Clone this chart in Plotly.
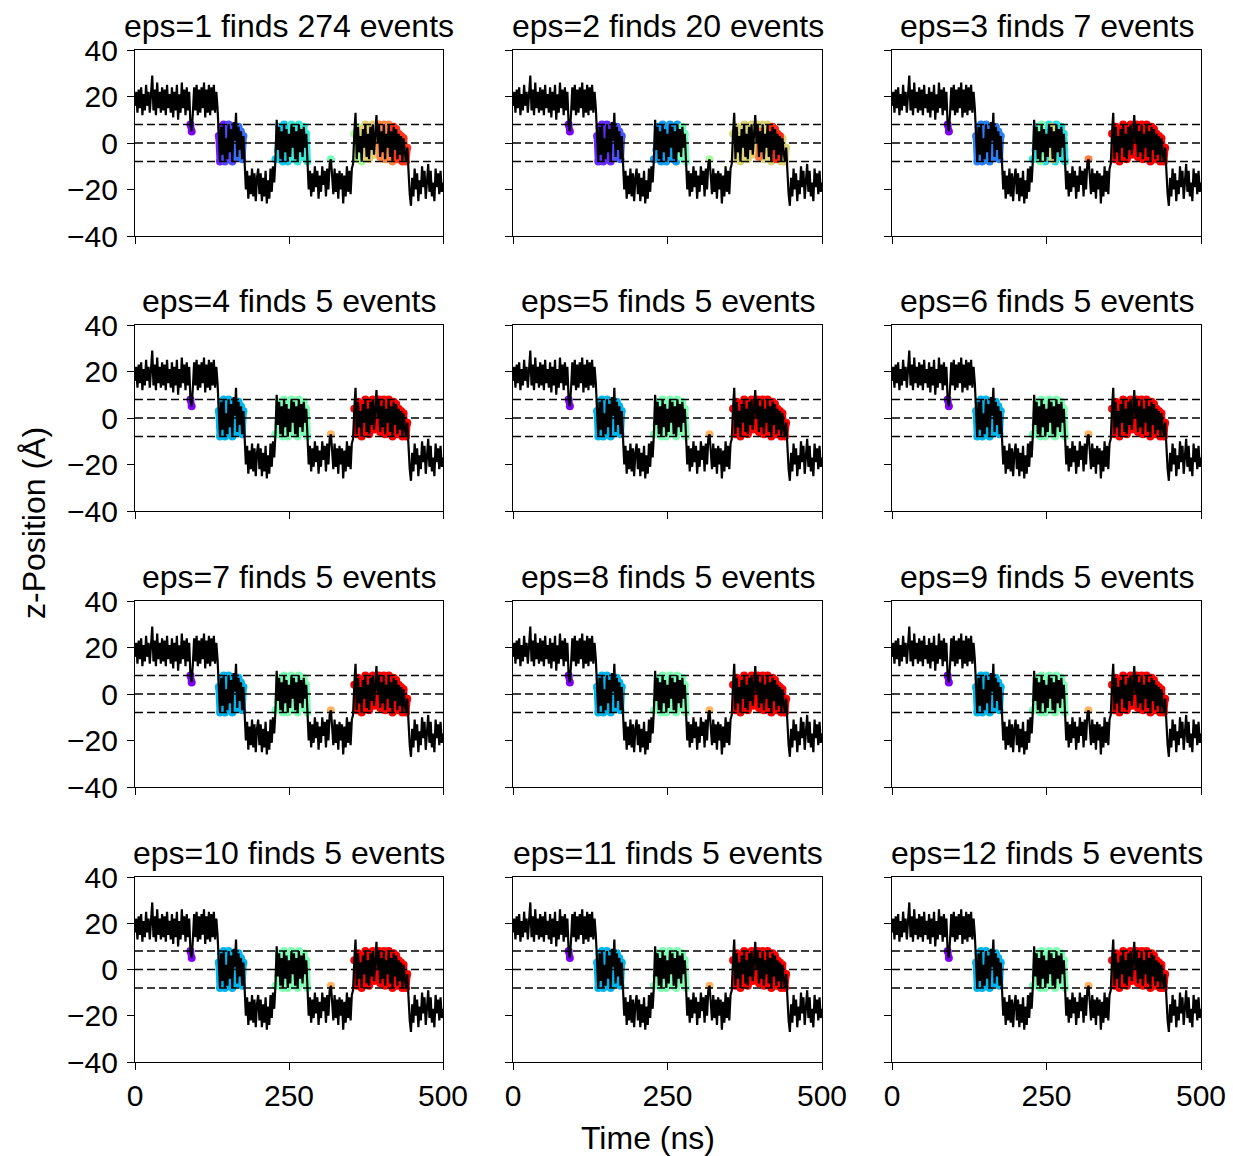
import math
import plotly.graph_objects as go
from plotly.subplots import make_subplots

# z-position of the ion along the channel axis, sampled every 2 ns
time_ns = list(range(0, 501, 2))
z_pos = [
    # 0-134 ns: above the channel
    16, 22, 13, 23, 15, 24, 12, 21, 14, 25, 16, 22, 13, 24, 29, 14, 23, 12, 26, 15,
    22, 13, 24, 14, 23, 12, 25, 15, 21, 13, 24, 11, 22, 14, 25, 10, 21, 13, 26, 15,
    23, 12, 24, 14, 22, 8, 5, 13, 24, 14, 25, 12, 23, 13, 24, 15, 26, 11, 23, 13,
    25, 12, 24, 14, 25, 13, 22, 15,
    # 136-178 ns: first passage through the channel
    3, -8, 7, -5, 8, -8, 2, -7, 8, -4, 6, -8, 9, 1, 13, -6, 7, -3, 5, -7, 3, -13,
    # 180-226 ns: below the channel
    -20, -12, -24, -14, -22, -11, -23, -13, -25, -15, -11, -22, -13, -25, -15, -23,
    -12, -26, -16, -24, -11, -21, -10, -17,
    # 228-280 ns: back inside
    -7, 10,
    -3, 7, -7, 5, -8, 8, -4, 6, -8, 4, -6, 8, -2, 7, -7, 5, -8, 8, -4, 6, -6, 7, -2, 4, -8,
    # 282-352 ns: below the channel
    -20, -12, -23, -13, -21, -10, -19, -12, -24, -14, -21, -10, -18, -12, -23, -11,
    -20, -9, -7, -14, -22, -11, -21, -13, -24, -12, -20, -13, -26, -14, -23, -10,
    -21, -12, -22, -11,
    # 354-442 ns: long stay inside
    -9, 4, 13,
    -7, 7, -4, 3, -8, 6, -2, 8, -6, 4, -7, 7, -3, 8, -5, 6, 12, 0, 8, -6, 5, -4,
    8, -7, 4, -2, 8, -6, 5, -8, 7, -3, 6, -7, 4, -5, 3, -8, 2, -4, -8, -2,
    # 444-500 ns: below the channel
    -14, -22, -27, -15, -23, -11, -20, -13, -25, -16, -22, -10, -19, -12, -24, -15,
    -9, -21, -12, -23, -17, -25, -11, -19, -13, -22, -12, -21, -17,
]

# channel boundaries (dashed lines)
channel_levels = [8, 0, -8]
channel_half_width = 8

eps_values = [1, 2, 3, 4, 5, 6, 7, 8, 9, 10, 11, 12]
events_found = [274, 20, 7, 5, 5, 5, 5, 5, 5, 5, 5, 5]

# (start ns, end ns, cluster label) for in-channel points of each run
spans_default = [(88, 96, 0), (136, 178, 1), (228, 282, 2), (316, 320, 3), (354, 442, 4)]
event_spans = {
    1: [(88, 96, 0), (136, 146, 10), (146, 160, 25), (160, 178, 40), (228, 250, 80),
        (250, 282, 100), (316, 320, 130), (354, 370, 160), (370, 395, 190),
        (395, 420, 225), (420, 442, 255)],
    2: [(88, 96, 0), (136, 160, 1), (160, 178, 2), (228, 282, 4), (270, 282, 9),
        (316, 320, 11), (354, 442, 13), (398, 402, 16), (420, 432, 18)],
    3: [(88, 96, 0), (136, 178, 1), (228, 282, 2), (240, 244, 3), (258, 262, 4),
        (316, 320, 5), (354, 442, 6)],
}


def rainbow(v):
    r = min(1.0, abs(2 * v - 0.5))
    g = max(0.0, math.sin(math.pi * v))
    b = max(0.0, math.cos(math.pi * v / 2))
    return "rgb({:.0f},{:.0f},{:.0f})".format(r * 255, g * 255, b * 255)


FONT = "Liberation Sans, Arial, Helvetica, sans-serif"

fig = make_subplots(rows=4, cols=3)

col_domains = [(135, 443), (513, 822), (892, 1201)]
row_domains = [(50, 236), (325, 511), (601, 787), (877, 1062)]
W, H = 1233, 1156

for k, eps in enumerate(eps_values):
    row, col = k // 3 + 1, k % 3 + 1
    n_events = events_found[k]
    spans = event_spans.get(eps, spans_default)

    labels = [-1] * len(time_ns)
    for t0, t1, lab in spans:
        for i, t in enumerate(time_ns):
            if t0 <= t <= t1 and abs(z_pos[i]) <= channel_half_width:
                labels[i] = lab

    # coloured halo behind each detected event
    for lab in sorted(set(l for l in labels if l >= 0)):
        xs, ys = [], []
        prev = None
        for i, l in enumerate(labels):
            if l == lab:
                if prev is not None and i - prev > 1:
                    xs.append(None)
                    ys.append(None)
                xs.append(time_ns[i])
                ys.append(z_pos[i])
                prev = i
        color = rainbow(lab / max(1, n_events - 1))
        fig.add_trace(go.Scatter(x=xs, y=ys, mode="lines+markers",
                                 line=dict(color=color, width=7),
                                 marker=dict(color=color, size=8),
                                 hoverinfo="skip", showlegend=False),
                      row=row, col=col)

    fig.add_trace(go.Scatter(x=time_ns, y=z_pos, mode="lines",
                             line=dict(color="black", width=2.2),
                             showlegend=False),
                  row=row, col=col)

    for lvl in channel_levels:
        fig.add_trace(go.Scatter(x=[0, 500], y=[lvl, lvl], mode="lines",
                                 line=dict(color="black", width=1.5, dash="8px,4px"),
                                 hoverinfo="skip", showlegend=False),
                      row=row, col=col)

    x0, x1 = col_domains[col - 1]
    y0, y1 = row_domains[row - 1]
    xd = [x0 / W, x1 / W]
    yd = [1 - y1 / H, 1 - y0 / H]
    suffix = "" if k == 0 else str(k + 1)
    fig.layout["xaxis" + suffix].update(
        domain=xd, range=[0, 500], tickvals=[0, 250, 500],
        showticklabels=(row == 4))
    fig.layout["yaxis" + suffix].update(
        domain=yd, range=[-40, 40], tickvals=[-40, -20, 0, 20, 40],
        showticklabels=(col == 1))

    fig.add_annotation(text=f"eps={eps} finds {n_events} events",
                       x=0.5, y=1, xref=f"x{suffix} domain", yref=f"y{suffix} domain",
                       xanchor="center", yanchor="bottom", yshift=4, showarrow=False,
                       font=dict(family=FONT, size=32, color="black"))

axis_style = dict(showline=True, mirror=True, linecolor="black", linewidth=1.3,
                  ticks="outside", ticklen=7, tickwidth=1.3, tickcolor="black",
                  showgrid=False, zeroline=False, automargin=False,
                  tickfont=dict(family=FONT, size=30, color="black"))
fig.update_xaxes(**axis_style)
fig.update_yaxes(**axis_style, ticklabelstandoff=3)

# shared axis labels, positioned relative to the middle panels
fig.add_annotation(text="Time (ns)", x=(648 - 513) / (822 - 513), y=-(1138 - 1062) / (1062 - 877),
                   xref="x11 domain", yref="y11 domain",
                   xanchor="center", yanchor="middle", showarrow=False,
                   font=dict(family=FONT, size=32, color="black"))
fig.add_annotation(text="z-Position (Å)", x=(34 - 135) / (443 - 135), y=-(523 - 511) / (511 - 325),
                   xref="x4 domain", yref="y4 domain",
                   xanchor="center", yanchor="middle", textangle=-90, showarrow=False,
                   font=dict(family=FONT, size=32, color="black"))

fig.update_layout(width=W, height=H, margin=dict(l=0, r=0, t=0, b=0, autoexpand=False),
                  paper_bgcolor="white", plot_bgcolor="white",
                  font=dict(family=FONT, color="black"))

fig.write_html("out.html")
